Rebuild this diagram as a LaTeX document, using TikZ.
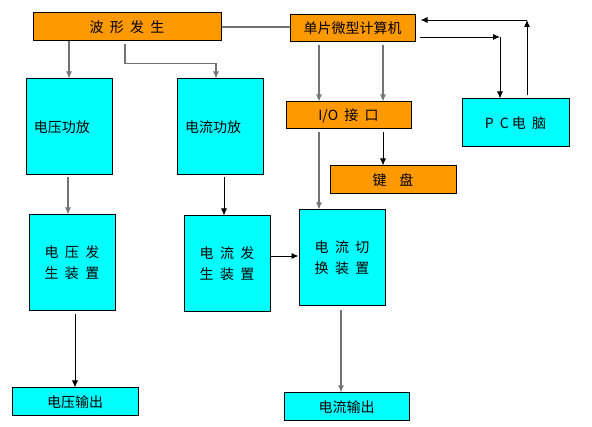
\documentclass[tikz,border=0pt]{standalone}
\usepackage{fontspec}
\setmainfont{Noto Sans CJK SC}
\usetikzlibrary{arrows.meta,calc}
\definecolor{boxorange}{HTML}{FF9900}
\definecolor{boxcyan}{HTML}{00FFFF}

\begin{document}
\begin{tikzpicture}[x=1pt,y=-1pt,
  every node/.style={font=\fontsize{14}{21}\selectfont, inner sep=0pt, align=center},
  obox/.style={draw, line width=1pt, fill=boxorange},
  cbox/.style={draw, line width=1pt, fill=boxcyan},
  arr/.style={line width=0.9pt, -{Latex[length=7pt,width=6pt]}},
  garr/.style={arr, line width=1.1pt, draw=gray!90!black},
  gline/.style={line width=1.1pt, draw=gray!90!black}]
\useasboundingbox (0,0) rectangle (592,427);
\node[obox, minimum width=188, minimum height=28] (wave) at (127,27) {波\ \ 形\ \ 发\ \ 生};
\node[obox, minimum width=125, minimum height=27] (mcu) at (352.5,28.5) {单片微型计算机};
\node[obox, minimum width=125, minimum height=27] (io) at (348.5,115.5) {I/O\ \ 接\ \ 口};
\node[obox, minimum width=126, minimum height=28] (kb) at (393,180) {键\ \ \ \ 盘};
\node[cbox, minimum width=107, minimum height=48] (pc) at (515.5,123) {P\ \ C\ 电\ \ 脑};
\node[cbox, minimum width=86, minimum height=96, text width=70, align=left] (vamp) at (69,127) {电压功放};
\node[cbox, minimum width=86, minimum height=96, text width=70, align=left] (camp) at (220,127) {电流功放};
\node[cbox, minimum width=86, minimum height=96] (vgen) at (72,263) {电\ \ 压\ \ 发\\生\ \ 装\ \ 置};
\node[cbox, minimum width=86, minimum height=96] (cgen) at (227,264) {电\ \ 流\ \ 发\\生\ \ 装\ \ 置};
\node[cbox, minimum width=86, minimum height=96] (csw) at (342,258) {电\ \ 流\ \ 切\\换\ \ 装\ \ 置};
\node[cbox, minimum width=126, minimum height=28] (vout) at (75,402) {电压输出};
\node[cbox, minimum width=125, minimum height=28] (cout) at (346.5,407) {电流输出};
\coordinate (c1) at (500,37);
\coordinate (c2) at (527,20);
% waveform side
\draw[gline] (wave.east) -- (wave.east -| mcu.west);
\draw[garr] (wave.south -| vamp.north) -- (vamp.north);
\draw[garr, shorten <=3pt] ([xshift=-2pt]wave.south) -- ++(0,22) -| ([xshift=-4pt]camp.north);
% mcu side
\draw[garr, shorten <=3pt] ([xshift=-33.5pt]mcu.south) -- ([xshift=-33.5pt]mcu.south |- io.north);
\draw[garr, shorten <=3pt] ([xshift=30.5pt]mcu.south) -- ([xshift=30.5pt]mcu.south |- io.north);
\draw[arr, shorten <=4pt] (mcu.east |- c1) -- (c1);
\draw[arr] (c1) -- (c1 |- pc.north);
\draw[arr, shorten <=3pt] (c2 |- pc.north) -- (c2);
\draw[arr, shorten >=5pt] (c2) -- (c2 -| mcu.east);
\draw[gline, shorten <=3pt, -{Latex[length=7pt,width=6pt]}] ([xshift=-29.5pt]io.south) -- ([xshift=-29.5pt]io.south |- csw.north);
\draw[arr, shorten <=3pt] ([xshift=34.5pt]io.south) -- ([xshift=34.5pt]io.south |- kb.north);
% power stages
\draw[garr, shorten <=2pt] ([xshift=-1pt]vamp.south) -- ([xshift=-1pt]vamp.south |- vgen.north);
\draw[arr, shorten <=2pt] ([xshift=4pt]camp.south) -- ([xshift=4pt]camp.south |- cgen.north);
\draw[arr] ([yshift=2pt]cgen.east |- csw.west) -- ([yshift=2pt]csw.west);
\draw[arr, shorten <=3pt] ([xshift=3pt]vgen.south) -- ([xshift=3pt]vgen.south |- vout.north);
\draw[garr, shorten <=4pt] ([xshift=-1pt]csw.south) -- ([xshift=-1pt]csw.south |- cout.north);
\end{tikzpicture}
\end{document}
